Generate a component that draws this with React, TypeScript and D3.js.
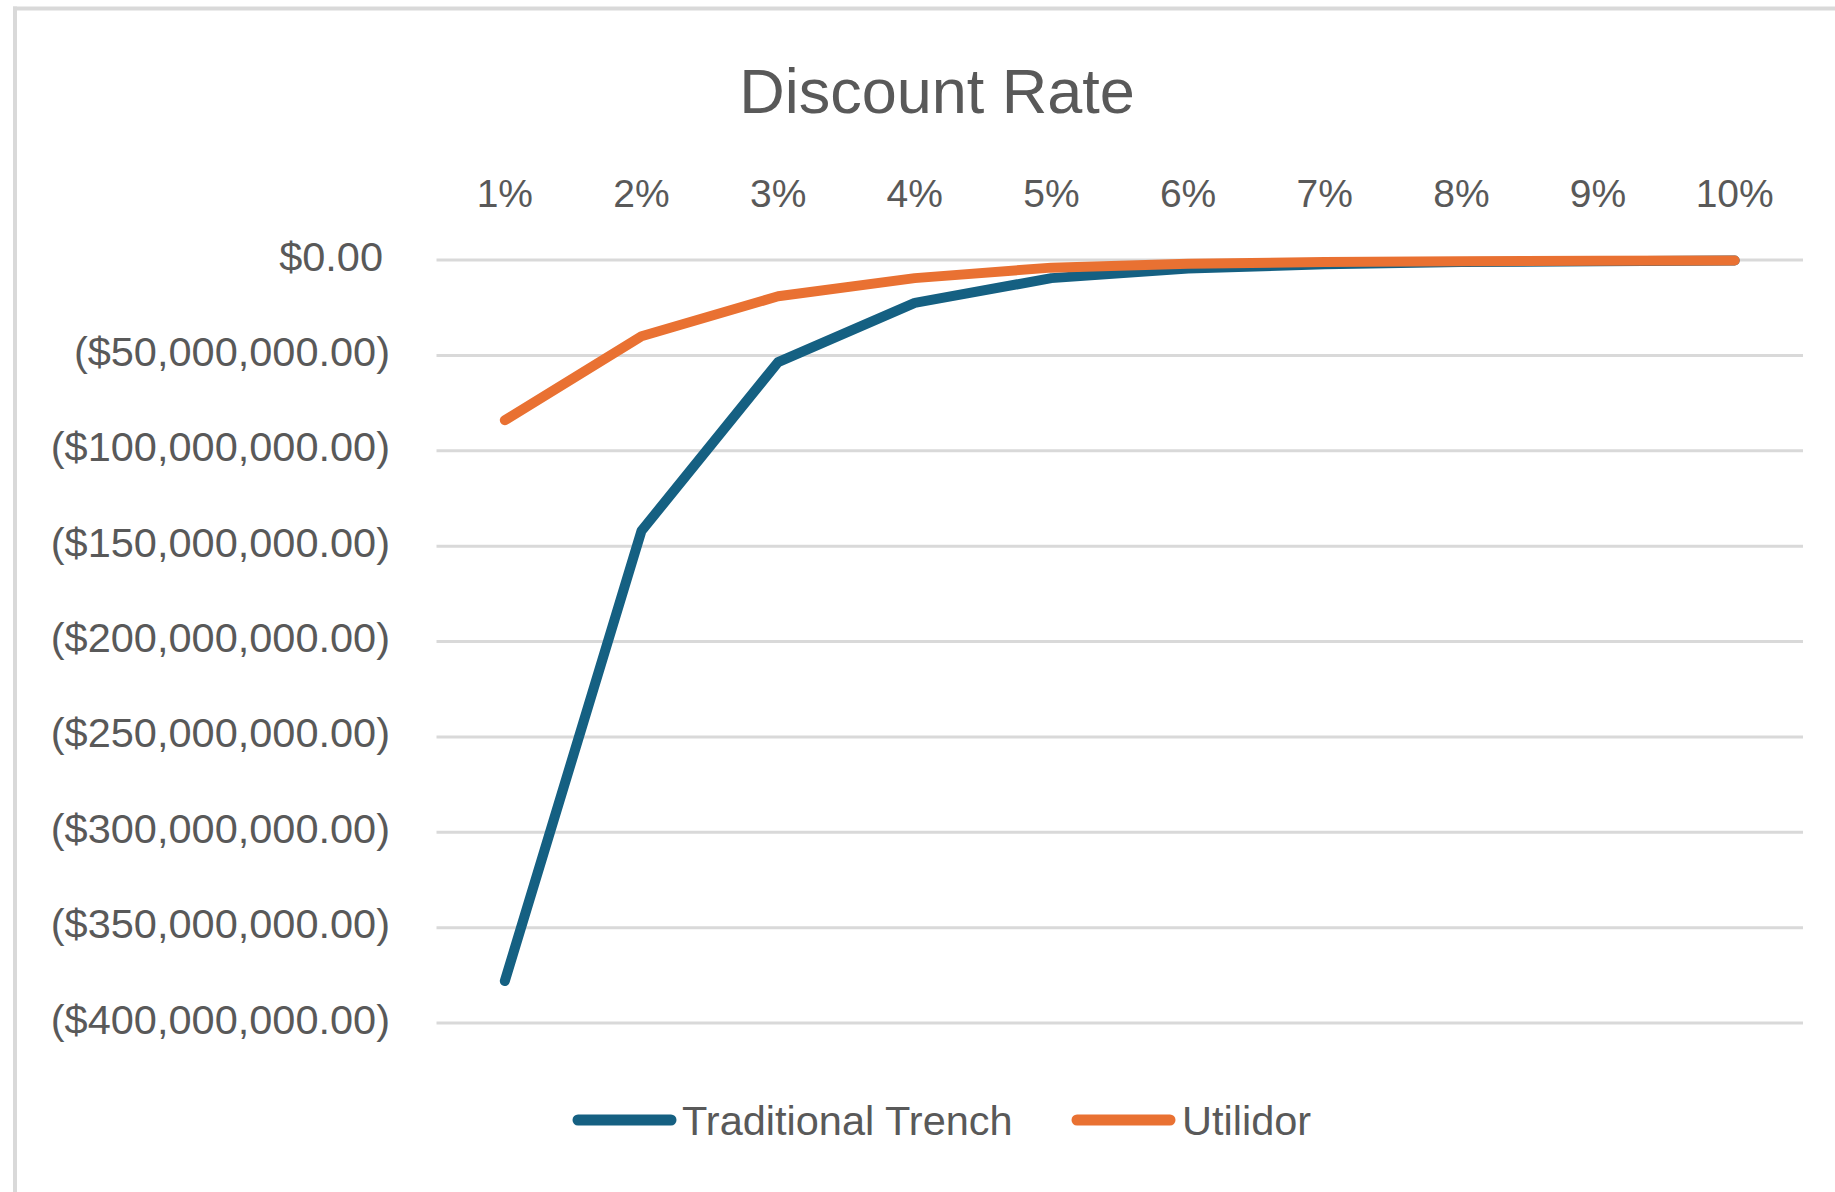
import React from "react";
import * as d3 from "d3";

const categories = ["1%", "2%", "3%", "4%", "5%", "6%", "7%", "8%", "9%", "10%"];
const traditionalTrench = [-378e6, -142e6, -53.5e6, -22.5e6, -9.5e6, -4.5e6, -2.2e6, -1.1e6, -0.6e6, -0.3e6];
const utilidor = [-84e6, -40e6, -19e6, -9.5e6, -4e6, -2e6, -1e6, -0.6e6, -0.4e6, -0.3e6];
const yTicks = [0, -50e6, -100e6, -150e6, -200e6, -250e6, -300e6, -350e6, -400e6];
const seriesNames = ["Traditional Trench", "Utilidor"];
const seriesColors = ["#156082", "#E97132"];

const W = 1835;
const H = 1192;
const FONT = "'Liberation Sans', Arial, sans-serif";
const TEXT = "#595959";

const fmt = d3.format(",.2f");
function money(v: number): string {
  if (v === 0) return "$0.00";
  return v < 0 ? `($${fmt(-v)})` : `$${fmt(v)}`;
}

export default function App() {
  const x = d3.scaleBand<string>().domain(categories).range([436.5, 1803]);
  const y = d3.scaleLinear().domain([-400e6, 0]).range([1023, 260]);
  const cx = (c: string) => (x(c) as number) + x.bandwidth() / 2;

  const line = d3
    .line<number>()
    .x((_, i) => cx(categories[i]))
    .y((v) => y(v));

  const series = [traditionalTrench, utilidor];

  return (
    <svg
      width={W}
      height={H}
      style={{ position: "absolute", left: 0, top: 0, background: "#fff" }}
      fontFamily={FONT}
    >
      <rect x={0} y={0} width={W} height={H} fill="#ffffff" />
      {/* border */}
      <line x1={13} x2={W} y1={8.5} y2={8.5} stroke="#d9d9d9" strokeWidth={4} />
      <line x1={15} x2={15} y1={6.5} y2={H} stroke="#d9d9d9" strokeWidth={4} />

      {/* title */}
      <text x={937} y={113} textAnchor="middle" fontSize={63} fill={TEXT}>
        Discount Rate
      </text>

      {/* gridlines */}
      {yTicks.map((t) => (
        <line
          key={t}
          x1={436.5}
          x2={1803}
          y1={y(t)}
          y2={y(t)}
          stroke="#d9d9d9"
          strokeWidth={3}
        />
      ))}

      {/* y labels */}
      {yTicks.map((t) => (
        <text
          key={"l" + t}
          x={t === 0 ? 383 : 390}
          y={y(t) - 4}
          textAnchor="end"
          dominantBaseline="central"
          fontSize={41.5}
          fill={TEXT}
        >
          {money(t)}
        </text>
      ))}

      {/* x labels */}
      {categories.map((c) => (
        <text
          key={c}
          x={cx(c)}
          y={207}
          textAnchor="middle"
          fontSize={39}
          fill={TEXT}
        >
          {c}
        </text>
      ))}

      {/* lines */}
      {series.map((s, i) => (
        <path
          key={seriesNames[i]}
          d={line(s) as string}
          fill="none"
          stroke={seriesColors[i]}
          strokeWidth={10}
          strokeLinejoin="round"
          strokeLinecap="round"
        />
      ))}

      {/* legend */}
      <g>
        <line x1={578} x2={671} y1={1120} y2={1120} stroke={seriesColors[0]} strokeWidth={11} strokeLinecap="round" />
        <text x={682} y={1120} dominantBaseline="central" fontSize={41.5} fill={TEXT}>
          {seriesNames[0]}
        </text>
        <line x1={1077} x2={1170} y1={1120} y2={1120} stroke={seriesColors[1]} strokeWidth={11} strokeLinecap="round" />
        <text x={1182} y={1120} dominantBaseline="central" fontSize={41.5} fill={TEXT}>
          {seriesNames[1]}
        </text>
      </g>
    </svg>
  );
}
